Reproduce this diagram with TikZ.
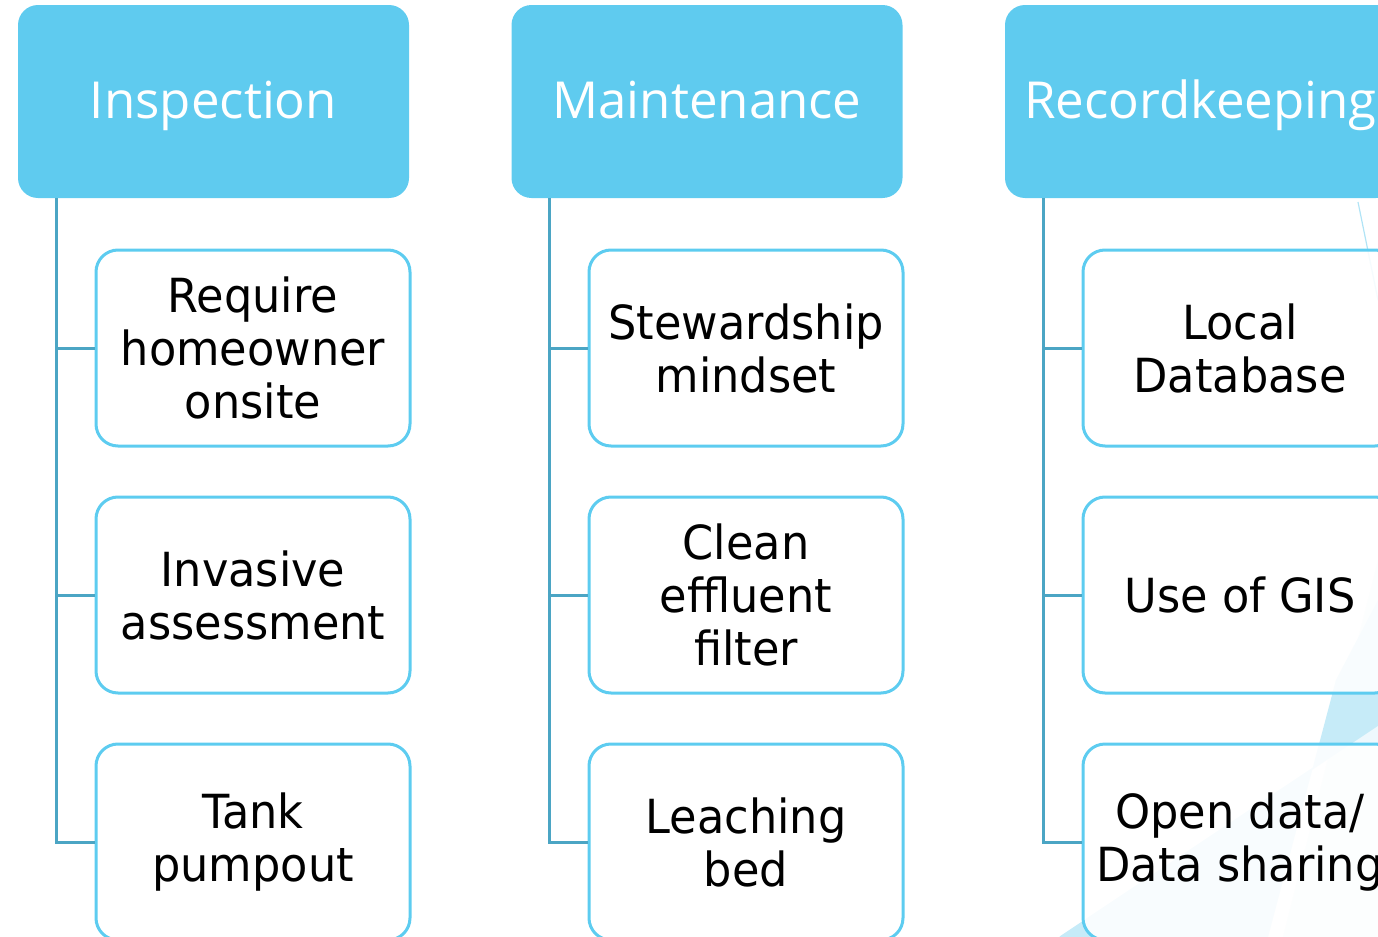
\documentclass[tikz,border=0pt]{standalone}
\usepackage{fontspec}
\setmainfont{DejaVu Sans}[FakeStretch=0.95]
\newfontfamily\headfont{Open Sans}
\usepackage{tikz}
\usetikzlibrary{positioning,calc}
\definecolor{headblue}{HTML}{5FCBEF}
\definecolor{framblue}{HTML}{5DCCF0}
\definecolor{stemblue}{HTML}{4BA5C4}
\definecolor{decoblue}{HTML}{C6EBF8}
\definecolor{decopale}{HTML}{EEF8FD}

\tikzset{
  head/.style={rectangle,rounded corners=10pt,fill=headblue,text=white,
    minimum width=195.5pt,minimum height=96.5pt,text height=24pt,text depth=6.5pt,
    font=\headfont\fontsize{25.5}{30}\selectfont},
  leaf/.style={rectangle,rounded corners=11pt,draw=framblue,line width=1.5pt,
    fill=white,fill opacity=0.88,text opacity=1,align=center,
    minimum width=157pt,minimum height=98pt,font=\fontsize{23.5}{26.5}\selectfont},
  stem/.style={draw=stemblue,line width=1.5pt}
}

\begin{document}
\begin{tikzpicture}[x=0.5pt,y=-0.5pt]
\useasboundingbox (0,0) rectangle (1378,937);
\clip (0,0) rectangle (1378,937);

% background sheet
\fill[decopale] (1283,937) -- (1378,560) -- (1378,937) -- cycle;
\fill[decoblue] (1268,937) -- (1336,680) -- (1378,600) -- (1378,725) -- (1060,937) -- cycle;
\draw[decoblue,line width=0.7pt] (1060,937) -- (1378,725);
\draw[decoblue!80!headblue,line width=0.6pt] (1358,202) -- (1378,300);

% headers
\node[head] (ins) at (213.5,101.5) {Inspection};
\node[head] (mnt) at (707,101.5) {Maintenance};
\node[head] (rec) at (1200.5,101.5) {Recordkeeping};

% Inspection
\node[leaf] (insA) at (253,348) {Require\\homeowner\\onsite};
\node[leaf] (insB) at (253,595) {Invasive\\assessment};
\node[leaf] (insC) at (253,842) {Tank\\pumpout};

% Maintenance
\node[leaf] (mntA) at (746,348) {Stewardship\\mindset};
\node[leaf] (mntB) at (746,595) {Clean\\effluent\\filter};
\node[leaf] (mntC) at (746,842) {Leaching\\bed};

% Recordkeeping
\node[leaf] (recA) at (1240,348) {Local\\Database};
\node[leaf] (recB) at (1240,595) {Use of GIS};
\node[leaf] (recC) at (1240,842) {Open data/\\Data sharing};

% stems
\coordinate (insT) at (56,198);
\coordinate (mntT) at (549,198);
\coordinate (recT) at (1043,198);
\draw[stem] (insT) |- (insC.west);
\draw[stem] (insT |- insA.west) -- (insA.west);
\draw[stem] (insT |- insB.west) -- (insB.west);
\draw[stem] (mntT) |- (mntC.west);
\draw[stem] (mntT |- mntA.west) -- (mntA.west);
\draw[stem] (mntT |- mntB.west) -- (mntB.west);
\draw[stem] (recT) |- (recC.west);
\draw[stem] (recT |- recA.west) -- (recA.west);
\draw[stem] (recT |- recB.west) -- (recB.west);
\end{tikzpicture}
\end{document}
